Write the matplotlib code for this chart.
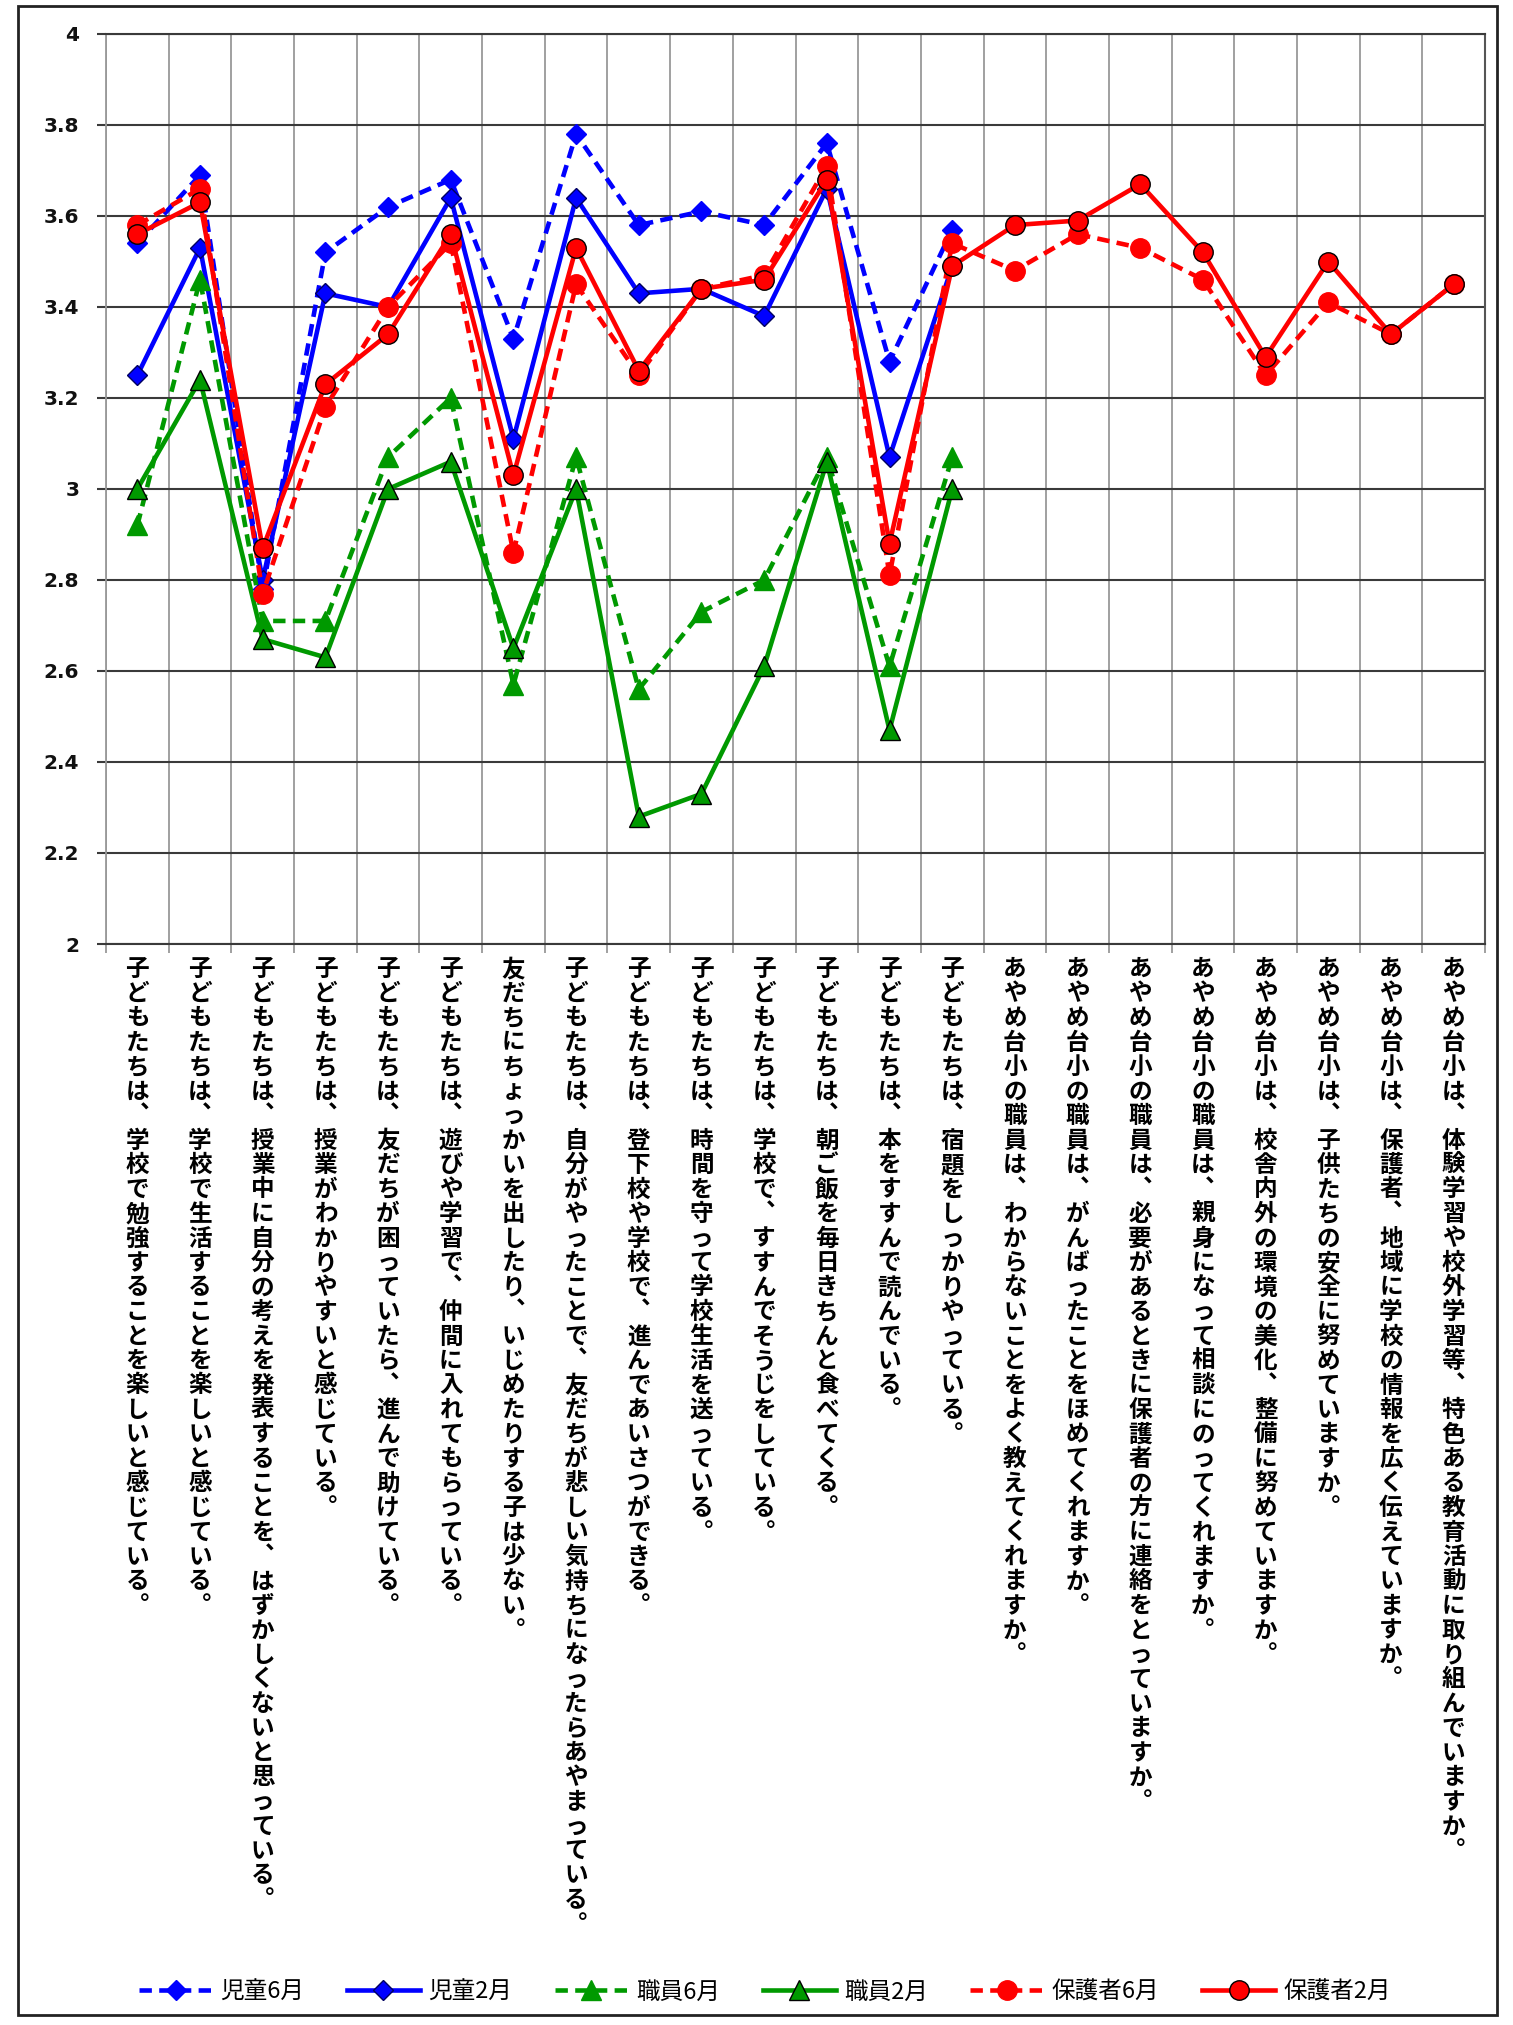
import matplotlib
matplotlib.use("Agg")
import matplotlib.pyplot as plt
import matplotlib.transforms as mtransforms
from matplotlib.patches import Rectangle
from matplotlib.ticker import FixedLocator, FuncFormatter
import numpy as np

plt.rcParams['font.family'] = ['Noto Sans CJK JP', 'DejaVu Sans']

# 設問（横軸）
questions = [
    '子どもたちは、学校で勉強することを楽しいと感じている。',
    '子どもたちは、学校で生活することを楽しいと感じている。',
    '子どもたちは、授業中に自分の考えを発表することを、はずかしくないと思っている。',
    '子どもたちは、授業がわかりやすいと感じている。',
    '子どもたちは、友だちが困っていたら、進んで助けている。',
    '子どもたちは、遊びや学習で、仲間に入れてもらっている。',
    '友だちにちょっかいを出したり、いじめたりする子は少ない。',
    '子どもたちは、自分がやったことで、友だちが悲しい気持ちになったらあやまっている。',
    '子どもたちは、登下校や学校で、進んであいさつができる。',
    '子どもたちは、時間を守って学校生活を送っている。',
    '子どもたちは、学校で、すすんでそうじをしている。',
    '子どもたちは、朝ご飯を毎日きちんと食べてくる。',
    '子どもたちは、本をすすんで読んでいる。',
    '子どもたちは、宿題をしっかりやっている。',
    'あやめ台小の職員は、わからないことをよく教えてくれますか。',
    'あやめ台小の職員は、がんばったことをほめてくれますか。',
    'あやめ台小の職員は、必要があるときに保護者の方に連絡をとっていますか。',
    'あやめ台小の職員は、親身になって相談にのってくれますか。',
    'あやめ台小は、校舎内外の環境の美化、整備に努めていますか。',
    'あやめ台小は、子供たちの安全に努めていますか。',
    'あやめ台小は、保護者、地域に学校の情報を広く伝えていますか。',
    'あやめ台小は、体験学習や校外学習等、特色ある教育活動に取り組んでいますか。',
]

# 平均値（児童・職員は14項目、保護者は22項目）
jidou_6 = [3.54, 3.69, 2.78, 3.52, 3.62, 3.68, 3.33, 3.78, 3.58, 3.61, 3.58, 3.76, 3.28, 3.57]
jidou_2 = [3.25, 3.53, 2.80, 3.43, 3.40, 3.64, 3.11, 3.64, 3.43, 3.44, 3.38, 3.66, 3.07, 3.49]
shokuin_6 = [2.92, 3.46, 2.71, 2.71, 3.07, 3.20, 2.57, 3.07, 2.56, 2.73, 2.80, 3.07, 2.61, 3.07]
shokuin_2 = [3.00, 3.24, 2.67, 2.63, 3.00, 3.06, 2.65, 3.00, 2.28, 2.33, 2.61, 3.06, 2.47, 3.00]
hogosha_6 = [3.58, 3.66, 2.77, 3.18, 3.40, 3.54, 2.86, 3.45, 3.25, 3.44, 3.47, 3.71, 2.81, 3.54,
             3.48, 3.56, 3.53, 3.46, 3.25, 3.41, 3.34, 3.45]
hogosha_2 = [3.56, 3.63, 2.87, 3.23, 3.34, 3.56, 3.03, 3.53, 3.26, 3.44, 3.46, 3.68, 2.88, 3.49,
             3.58, 3.59, 3.67, 3.52, 3.29, 3.50, 3.34, 3.45]

W, H = 1513, 2025
fig = plt.figure(figsize=(W / 100, H / 100), dpi=100)
ax = fig.add_axes([106 / W, 1 - 944 / H, (1485 - 106) / W, (944 - 34) / H])

BLUE = '#0000FF'
GREEN = '#009900'
RED = '#FF0000'
LW = 3.3
DASH = (2.7, 1.6)

x14 = np.arange(len(jidou_6))
x22 = np.arange(len(hogosha_6))

ax.plot(x14, jidou_6, color=BLUE, lw=LW, dashes=DASH, marker='D', ms=10,
        mfc=BLUE, mec=BLUE, label='児童6月', zorder=3)
ax.plot(x14, jidou_2, color=BLUE, lw=LW, marker='D', ms=10,
        mfc=BLUE, mec='#000060', mew=1.0, label='児童2月', zorder=4)
ax.plot(x14, shokuin_6, color=GREEN, lw=LW, dashes=DASH, marker='^', ms=15,
        mfc=GREEN, mec=GREEN, label='職員6月', zorder=5)
ax.plot(x14, shokuin_2, color=GREEN, lw=LW, marker='^', ms=15,
        mfc=GREEN, mec='black', mew=1.0, label='職員2月', zorder=6)
ax.plot(x22, hogosha_6, color=RED, lw=LW, dashes=DASH, marker='o', ms=14,
        mfc=RED, mec=RED, label='保護者6月', zorder=7)
ax.plot(x22, hogosha_2, color=RED, lw=LW, marker='o', ms=14,
        mfc=RED, mec='black', mew=1.0, label='保護者2月', zorder=8)

# 軸・目盛り
ax.set_xlim(-0.5, len(questions) - 0.5)
ax.set_ylim(2, 4)
ax.yaxis.set_major_locator(FixedLocator(np.arange(2, 4.01, 0.2)))
ax.yaxis.set_major_formatter(FuncFormatter(lambda v, _: f'{v:g}'))
ax.set_xticks(np.arange(len(questions)))
ax.set_xticklabels([])
ax.xaxis.set_minor_locator(FixedLocator(np.arange(-0.5, len(questions), 1.0)))
ax.tick_params(axis='x', which='major', length=0)
ax.tick_params(axis='x', which='minor', direction='out', length=6.5, width=1.3, color='#999999')
ax.tick_params(axis='y', direction='out', length=6.3, width=1.5, color='#3a3a3a', pad=13)
for t in ax.get_yticklabels():
    t.set_family('DejaVu Sans')
    t.set_fontweight('bold')
    t.set_fontsize(14.5)
    t.set_color('#111111')

ax.grid(axis='y', which='major', color='#3a3a3a', lw=1.5)
ax.grid(axis='x', which='minor', color='#999999', lw=1.3)
ax.set_axisbelow(True)
ax.spines['left'].set_color('#999999')
ax.spines['left'].set_linewidth(1.3)
for s in ['top', 'bottom']:
    ax.spines[s].set_color('#3a3a3a')
    ax.spines[s].set_linewidth(1.5)
ax.spines['right'].set_color('#555555')
ax.spines['right'].set_linewidth(1.5)

# 縦書きのラベル（1文字ずつ下へ並べる）
vert = {'、': '\ufe11', '。': '\ufe12'}
first = 25 * 72 / 100
step = 24.5 * 72 / 100
base = ax.get_xaxis_transform()
for i, q in enumerate(questions):
    for k, ch in enumerate(q):
        off = mtransforms.ScaledTranslation(0, -(first + k * step) / 72, fig.dpi_scale_trans)
        ax.text(i, 0, vert.get(ch, ch), transform=base + off, ha='center', va='center',
                fontsize=17, fontweight='bold', color='black', clip_on=False)

# 凡例
fig.legend(loc='center', bbox_to_anchor=(0.5056, 1 - 1992 / H), ncol=6, frameon=False,
           fontsize=17, handlelength=3.1, handletextpad=0.35, columnspacing=1.8, numpoints=1)

# グラフエリアの枠
fig.patches.append(Rectangle((18 / W, 1 - 2015 / H), (1497 - 18) / W, (2015 - 6) / H,
                             transform=fig.transFigure, fill=False, ec='#222222', lw=2))

fig.savefig('out.png', dpi=100, facecolor='white')
